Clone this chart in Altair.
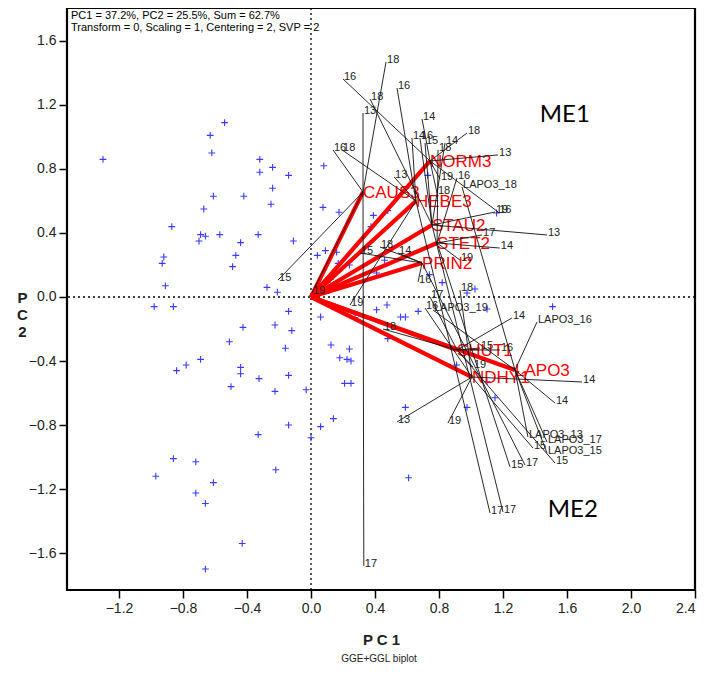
import altair as alt
import pandas as pd

# ---------------- data ----------------
# genotype scores (blue +)
gen_x = [-0.54, -0.63, -1.30, -0.62, -0.32, -0.32, -0.24, -0.14, -0.24, -0.61, -0.42, -0.25, -0.67,
         -0.87, -0.69, -0.66, -0.70, -0.57, -0.33, -0.44, -0.11, -0.47, -0.92, -0.93, -0.49, -0.91,
         -0.275, -0.21, 0.04, -0.98, -0.86, -0.14, 0.06, 0.13, -0.425, -0.225, -0.12, -0.51, -0.16,
         0.125, 0.24, 0.18, 0.225, 0.25, -0.69, -0.78, -0.84, -0.44, -0.44, -0.325, -0.14, -0.50,
         -0.225, -0.03, 0.21, 0.25, 0.14, 0.06, -0.14, -0.33, 0.0, -0.86, -0.72, -0.97, -0.22, -0.61,
         -0.72, -0.66, -0.43, -0.66,
         0.08, 0.075, 0.175, 0.39, 0.48, 0.375, 0.73, 1.16, 0.09, 0.16, 0.17, 0.24, 0.41, 0.46, 0.12,
         0.11, 0.74, 0.82, 0.975, 1.025, 0.475, 0.41, 0.56, 0.59, 0.67, 1.10, 1.51, 0.275, 0.48, 0.91,
         1.10, 1.15, 0.975, 0.59, 0.61]
gen_y = [1.09, 1.01, 0.86, 0.90, 0.86, 0.78, 0.81, 0.76, 0.68, 0.63, 0.63, 0.58, 0.55,
         0.44, 0.39, 0.38, 0.35, 0.39, 0.39, 0.34, 0.35, 0.26, 0.25, 0.21, 0.19, 0.07,
         0.06, 0.03, 0.26, -0.06, -0.06, -0.09, -0.125, -0.06, -0.19, -0.175, -0.21, -0.28, -0.32,
         -0.30, -0.325, -0.38, -0.39, -0.40, -0.39, -0.425, -0.46, -0.44, -0.48, -0.51, -0.49, -0.56,
         -0.59, -0.58, -0.54, -0.54, -0.76, -0.81, -0.80, -0.86, -0.88, -1.01, -1.03, -1.12, -1.08, -1.16,
         -1.225, -1.29, -1.54, -1.70,
         0.82, 0.56, 0.53, 0.51, 0.54, 0.44, 0.76, 0.525, 0.29, 0.28, 0.21, 0.20, 0.15, 0.23, 0.11,
         0.04, 0.14, 0.09, 0.025, 0.05, -0.05, -0.08, -0.125, -0.125, -0.09, -0.075, -0.06, -0.13, -0.26, -0.425,
         -0.53, -0.63, -0.69, -0.69, -1.13]

# environment (location) means, red vectors
env_names = ["CAUS3", "NORM3", "HEBE3", "STAU2", "STET2", "PRIN2", "SHUT1", "NDHY1", "LAPO3"]
env_x = [0.325, 0.744, 0.656, 0.756, 0.788, 0.694, 0.9125, 1.006, 1.275]
env_y = [0.656, 0.85, 0.60, 0.45, 0.3375, 0.2125, -0.331, -0.50, -0.456]

# location-year points (black lines from their location mean)
yr_env = [0, 0, 0, 0, 0, 0,
          1, 1, 1, 1, 1, 1, 1,
          2, 2, 2, 2, 2, 2,
          3, 3, 3, 3, 3, 3, 3,
          4, 4, 4, 4, 4, 4,
          5, 5, 5, 5, 5,
          6, 6, 6, 6, 6, 6, 6,
          7, 7, 7, 7, 7, 7,
          8, 8, 8, 8, 8, 8, 8]
yr_label = ["13", "15", "16", "17", "18", "19",
            "13", "14", "16", "18", "19", "16", "18",
            "13", "14", "16", "18", "19", "17",
            "13", "14", "16", "15", "18", "19", "17",
            "14", "17", "18", "16", "15", "19",
            "14", "15", "18", "16", "17",
            "15", "16", "14", "18", "19", "17", "15",
            "13", "14", "15", "16", "18", "19",
            "LAPO3_13", "14", "LAPO3_15", "LAPO3_16", "LAPO3_17", "LAPO3_18", "LAPO3_19"]
yr_x = [0.325, -0.206, 0.1375, 0.33, 0.469, 0.006,
        1.169, 0.694, 0.20, 0.975, 0.806, 1.17, 0.7875,
        0.519, 0.631, 0.5375, 0.194, 0.244, 1.119,
        1.475, 0.8375, 0.681, 0.7125, 0.369, 1.15, 1.20,
        1.18, 1.069, 0.794, 0.9125, 1.244, 0.931,
        0.544, 0.306, 0.431, 0.669, 1.3375,
        1.056, 1.181, 1.256, 0.45, 1.0125, 0.744, 1.525,
        0.5375, 1.694, 1.3875, 0.7125, 0.931, 0.856,
        1.356, 1.525, 1.475, 1.4125, 1.475, 0.944, 0.7625]
yr_y = [1.15, 0.106, 0.919, -1.68, 1.469, 0.025,
        0.8875, 1.1125, 1.3625, 1.025, 0.7375, 0.531, 0.65,
        0.75, 0.994, 1.306, 0.919, -0.05, -1.35,
        0.3875, 0.9625, 0.994, 0.9625, 1.2375, 0.531, -1.344,
        0.306, 0.3875, 0.919, 0.744, -1.0625, 0.231,
        0.275, 0.275, 0.3125, 0.094, -1.05,
        -0.319, -0.331, -0.131, -0.2, -0.4375, 0.0, -1.0375,
        -0.781, -0.531, -0.944, -0.069, 0.044, -0.7875,
        -0.875, -0.6625, -0.975, -0.156, -0.906, 0.6875, -0.081]

x_ticks = [-1.2, -0.8, -0.4, 0.0, 0.4, 0.8, 1.2, 1.6, 2.0, 2.4]
y_ticks = [-1.6, -1.2, -0.8, -0.4, 0.0, 0.4, 0.8, 1.2, 1.6]

header_lines = ["PC1 = 37.2%, PC2 = 25.5%, Sum = 62.7%",
                "Transform = 0, Scaling = 1, Centering = 2, SVP = 2"]
me_labels = ["ME1", "ME2"]
me_x = [1.43, 1.48]
me_y = [1.14, -1.33]

# ---------------- tables ----------------
gen_df = pd.DataFrame({"x": gen_x, "y": gen_y})
env_df = pd.DataFrame({"name": env_names, "x": env_x, "y": env_y, "x0": 0.0, "y0": 0.0})
yr_df = pd.DataFrame({
    "label": yr_label,
    "x": yr_x,
    "y": yr_y,
    "ex": [env_x[i] for i in yr_env],
    "ey": [env_y[i] for i in yr_env],
})
me_df = pd.DataFrame({"label": me_labels, "x": me_x, "y": me_y})
zero_df = pd.DataFrame({"v": [0.0]})
head1_df = pd.DataFrame({"text": [header_lines[0]]})
head2_df = pd.DataFrame({"text": [header_lines[1]]})
foot_df = pd.DataFrame({"text": ["GGE+GGL biplot"]})

FONT = "Liberation Sans"

xs = alt.Scale(domain=[-1.525, 2.4], nice=False, zero=False)
ys = alt.Scale(domain=[-1.831, 1.806], nice=False, zero=False)

x_axis = alt.Axis(values=x_ticks, format=".1f", grid=False, domain=False, tickSize=8,
                  tickColor="black", tickWidth=1.5, labelFontSize=14, labelColor="#222",
                  labelFont=FONT, labelPadding=3, title="P C 1", titleFont=FONT,
                  titleFontSize=15, titleFontWeight="bold", titleColor="#222",
                  titleY=49, titleBaseline="middle")
y_axis = alt.Axis(values=y_ticks, format=".1f", grid=False, domain=False, tickSize=8,
                  tickColor="black", tickWidth=1.5, labelFontSize=14, labelColor="#222",
                  labelFont=FONT, labelPadding=3, title=["P", "C", "2"], titleAngle=0,
                  titleFont=FONT, titleFontSize=15, titleFontWeight="bold", titleColor="#222",
                  titleX=-45, titleY=289, titleAlign="center", titleBaseline="middle",
                  titleLineHeight=17)

base_x = alt.X("x:Q", scale=xs, axis=x_axis)
base_y = alt.Y("y:Q", scale=ys, axis=y_axis)

vrule = alt.Chart(zero_df).mark_rule(color="black", strokeDash=[2, 3], strokeWidth=1.3).encode(
    x=alt.X("v:Q", scale=xs, axis=x_axis))
hrule = alt.Chart(zero_df).mark_rule(color="black", strokeDash=[2, 3], strokeWidth=1.3).encode(
    y=alt.Y("v:Q", scale=ys, axis=y_axis))

points = alt.Chart(gen_df).mark_point(shape="M-1,0L1,0M0,-1L0,1", filled=False, size=46,
                                      color="#3a3aff", strokeWidth=1.1, opacity=1).encode(
    x=base_x, y=base_y)

red_lines = alt.Chart(env_df).mark_rule(color="#ff0000", strokeWidth=4.2).encode(
    x=alt.X("x0:Q", scale=xs, axis=x_axis), y=alt.Y("y0:Q", scale=ys, axis=y_axis),
    x2="x:Q", y2="y:Q")

red_text = alt.Chart(env_df).mark_text(align="left", baseline="middle", dx=0, dy=1,
                                       font=FONT, fontSize=17, color="#ff0000").encode(
    x=base_x, y=base_y, text="name:N")

black_lines = alt.Chart(yr_df).mark_rule(color="#111", strokeWidth=0.9).encode(
    x=alt.X("ex:Q", scale=xs, axis=x_axis), y=alt.Y("ey:Q", scale=ys, axis=y_axis),
    x2="x:Q", y2="y:Q")

yr_text = alt.Chart(yr_df).mark_text(align="left", baseline="middle", dx=1, dy=-2,
                                     font=FONT, fontSize=11, color="#222").encode(
    x=base_x, y=base_y, text="label:N")

me_text = alt.Chart(me_df).mark_text(align="left", baseline="middle", font="Lato",
                                     fontSize=24, color="black").encode(
    x=base_x, y=base_y, text="label:N")

head1 = alt.Chart(head1_df).mark_text(align="left", baseline="middle", font=FONT,
                                      fontSize=11, color="black").encode(
    x=alt.value(4), y=alt.value(8), text="text:N")
head2 = alt.Chart(head2_df).mark_text(align="left", baseline="middle", font=FONT,
                                      fontSize=11, color="black").encode(
    x=alt.value(4), y=alt.value(20), text="text:N")

foot_text = alt.Chart(foot_df).mark_text(align="center", baseline="middle", font=FONT,
                                         fontSize=10, color="#222").encode(
    x=alt.value(312), y=alt.value(651), text="text:N")

chart = alt.layer(
    vrule, hrule, points, red_lines, red_text, black_lines, yr_text, me_text, head1, head2, foot_text
).properties(
    width=628, height=582,
    autosize=alt.AutoSizeParams(type="none"),
    padding={"left": 59, "top": 0, "right": 5, "bottom": 77},
).configure_view(stroke="black", strokeWidth=2.2)

chart.save("out.html", embed_options={"renderer": "svg", "actions": False})
